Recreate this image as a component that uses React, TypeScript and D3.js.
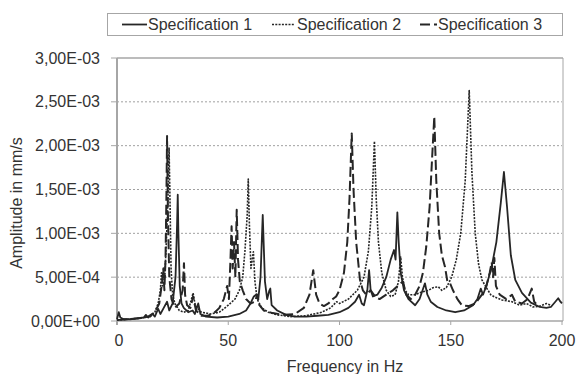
import React from "react";
import * as d3 from "d3";

const seriesNames = ["Specification 1", "Specification 2", "Specification 3"];

// frequency (Hz), amplitude (x1e-3 mm/s)
const spec1Freq = [0, 0.8, 1.5, 3, 6, 9, 12, 13, 14, 16, 17, 18.5, 19.5, 21, 22.5, 23.5, 25, 26.3, 27.0, 27.3, 27.6, 28.2, 29, 30, 32, 34, 35, 36.5, 37.5, 40, 45, 50, 55, 58, 60, 61.5, 62.5, 63.5, 64.5, 65.2, 65.5, 65.9, 66.5, 67.5, 68.5, 68.9, 69.5, 72, 76, 80, 85, 90, 95, 100, 104, 107, 108.8, 110, 111, 112.5, 113.3, 114, 115, 117, 119, 121, 123, 124.5, 125.2, 126.0, 126.6, 127.5, 129, 131, 134, 136, 138.4, 139.5, 141, 144, 148, 152, 156, 160, 162, 163.5, 164.5, 166, 168.4, 170.5, 172.5, 173.9, 175.3, 177, 179, 182, 186, 190, 193, 195, 197, 198.3, 199.3, 200];
const spec1Amp = [0.02, 0.10, 0.04, 0.02, 0.02, 0.03, 0.04, 0.07, 0.04, 0.08, 0.05, 0.14, 0.08, 0.15, 0.22, 0.12, 0.2, 0.5, 1.1, 1.44, 1.0, 0.4, 0.2, 0.15, 0.1, 0.12, 0.08, 0.2, 0.08, 0.05, 0.04, 0.05, 0.08, 0.12, 0.2, 0.28, 0.3, 0.25, 0.5, 1.0, 1.21, 0.9, 0.45, 0.25, 0.35, 0.37, 0.18, 0.12, 0.07, 0.05, 0.05, 0.06, 0.07, 0.1, 0.15, 0.22, 0.3, 0.2, 0.18, 0.35, 0.58, 0.35, 0.28, 0.3, 0.38, 0.5, 0.7, 0.81, 0.7, 1.24, 0.9, 0.55, 0.35, 0.25, 0.18, 0.25, 0.43, 0.3, 0.22, 0.16, 0.12, 0.1, 0.12, 0.18, 0.25, 0.37, 0.3, 0.4, 0.62, 0.9, 1.35, 1.70, 1.3, 0.75, 0.47, 0.32, 0.21, 0.16, 0.15, 0.16, 0.22, 0.26, 0.22, 0.2];

const spec2Freq = [0, 5, 10, 15, 17, 18.5, 19.5, 20, 20.5, 21, 21.5, 22, 22.5, 23.0, 23.4, 23.8, 24.3, 25, 26, 28, 30, 32, 33.5, 34.2, 35, 36, 38, 42, 46, 50, 53, 55, 56.5, 57.5, 58.5, 59.0, 59.5, 60.2, 60.8, 61.3, 62, 63, 65, 68, 72, 78, 85, 92, 96, 98.7, 100, 104, 108, 111, 113, 114.5, 115.7, 116.5, 117.5, 119, 121, 123, 125, 126.5, 127.5, 128.3, 129.5, 131, 134, 137, 140, 142, 144.4, 146, 148, 150.4, 152.5, 154.5, 156.5, 158.3, 159.5, 161, 162.5, 164, 166, 168, 170, 173, 177.5, 181, 184, 187, 190, 193, 195];
const spec2Amp = [0.01, 0.02, 0.03, 0.05, 0.1, 0.2, 0.35, 0.55, 0.4, 0.6, 0.5, 0.8, 1.1, 1.5, 1.98, 1.4, 0.6, 0.3, 0.2, 0.12, 0.1, 0.12, 0.25, 0.32, 0.2, 0.15, 0.1, 0.08, 0.1, 0.18, 0.25, 0.35, 0.5, 0.8, 1.2, 1.62, 1.1, 0.6, 0.7, 0.79, 0.45, 0.25, 0.15, 0.1, 0.07, 0.05, 0.06, 0.1, 0.15, 0.22, 0.2, 0.25, 0.35, 0.5, 0.8, 1.3, 2.05, 1.4, 0.9, 0.55, 0.35, 0.28, 0.3, 0.45, 0.73, 0.5, 0.35, 0.3, 0.3, 0.33, 0.35, 0.38, 0.39, 0.35, 0.38, 0.5, 0.7, 1.0, 1.6, 2.63, 1.7, 1.0, 0.65, 0.47, 0.38, 0.3, 0.27, 0.24, 0.22, 0.18, 0.2, 0.16, 0.17, 0.2, 0.18];

const spec3Freq = [0, 5, 10, 14, 17, 19, 20.3, 20.8, 21.3, 21.8, 22.2, 22.5, 22.9, 23.5, 24.5, 26, 28, 29.5, 30.1, 30.6, 31.5, 33, 34.2, 35.5, 38, 41, 44, 46, 48, 49.5, 50.3, 51.0, 51.5, 52.0, 52.6, 53.2, 53.8, 54.4, 55.2, 56.5, 58, 60, 62, 63, 64, 66, 70, 75, 80, 84, 86.5, 88.2, 89.5, 91, 93, 95, 97, 98.5, 100, 102, 103.5, 104.5, 105.5, 106.3, 107.5, 109.2, 110.5, 112, 114, 116, 118, 121, 124, 127, 128.5, 130, 132, 134, 136, 137.5, 139, 140.5, 141.5, 142.6, 143.5, 144.8, 146, 147.4, 148.5, 149.7, 151, 153, 155, 158, 161, 164, 166, 167.5, 168.4, 169, 169.6, 170.3, 172, 175, 177.5, 179, 182, 184.5, 186.4, 187.5, 189];
const spec3Amp = [0.01, 0.02, 0.03, 0.05, 0.1, 0.2, 0.45, 0.6, 0.35, 0.7, 1.4, 2.11, 1.2, 0.5, 0.25, 0.15, 0.2, 0.35, 0.66, 0.3, 0.18, 0.15, 0.28, 0.12, 0.06, 0.06, 0.1, 0.15, 0.25, 0.4, 0.25, 0.7, 1.08, 0.6, 0.9, 0.5, 1.27, 0.7, 0.45, 0.35, 0.25, 0.2, 0.22, 0.3, 0.18, 0.12, 0.09, 0.07, 0.08, 0.15, 0.3, 0.58, 0.3, 0.2, 0.17, 0.2, 0.25, 0.28, 0.35, 0.55, 0.9, 1.4, 2.14, 1.5, 0.9, 0.47, 0.35, 0.3, 0.35, 0.28, 0.25, 0.3, 0.35, 0.42, 0.45, 0.3, 0.25, 0.3, 0.4, 0.55, 0.85, 1.3, 1.8, 2.33, 1.6, 1.0, 0.75, 0.62, 0.45, 0.43, 0.35, 0.25, 0.18, 0.17, 0.2, 0.3, 0.4, 0.55, 0.67, 0.5, 0.72, 0.4, 0.3, 0.25, 0.3, 0.22, 0.2, 0.25, 0.37, 0.22, 0.18];

const xTicks = [0, 50, 100, 150, 200];
const yTicks = [0, 0.5, 1.0, 1.5, 2.0, 2.5, 3.0];
const yTickLabels = ["0,00E+00", "5,00E-04", "1,00E-03", "1,50E-03", "2,00E-03", "2,50E-03", "3,00E-03"];

export default function App() {
  const W = 577, H = 374;
  const left = 117, right = 562, top = 58, bottom = 321;
  const x = d3.scaleLinear().domain([0, 200]).range([left, right]);
  const y = d3.scaleLinear().domain([0, 3]).range([bottom, top]);
  const font = "'Liberation Sans', Arial, sans-serif";
  const line = d3.line<[number, number]>().x((d) => x(d[0])).y((d) => y(d[1]));
  const mk = (f: number[], a: number[]) => f.map((v, i) => [v, a[i]] as [number, number]);
  const series = [
    { name: seriesNames[0], data: mk(spec1Freq, spec1Amp), dash: "none", width: 1.8 },
    { name: seriesNames[1], data: mk(spec2Freq, spec2Amp), dash: "2,1.3", width: 1.6 },
    { name: seriesNames[2], data: mk(spec3Freq, spec3Amp), dash: "10,4", width: 2 },
  ];
  const legend = [
    { x1: 122, x2: 147, tx: 148, dash: "none", w: 1.8 },
    { x1: 272, x2: 294, tx: 297, dash: "2,1.3", w: 1.6 },
    { x1: 420, x2: 437, tx: 438, dash: "10,4", w: 2 },
  ];
  const lineColor = "#262626";
  const axisColor = "#a6a6a6";
  return (
    <svg width={W} height={H} style={{ position: "absolute", left: 0, top: 0, background: "#fff" }} fontFamily={font}>
      <rect x={0} y={0} width={W} height={H} fill="#fff" />
      {/* gridlines */}
      {yTicks.filter((t) => t > 0 && t < 3).map((t) => (
        <line key={"g" + t} x1={left} x2={right} y1={y(t)} y2={y(t)} stroke="#a0a0a0" strokeWidth={1} strokeDasharray="2,2" />
      ))}
      {/* frame */}
      <line x1={left} x2={right + 1} y1={top} y2={top} stroke={axisColor} strokeWidth={1.5} />
      <line x1={right + 1} x2={right + 1} y1={top} y2={bottom} stroke={axisColor} strokeWidth={1} />
      <line x1={left} x2={right + 1} y1={bottom} y2={bottom} stroke={axisColor} strokeWidth={1.5} />
      <line x1={left} x2={left} y1={top} y2={bottom + 4} stroke={axisColor} strokeWidth={2} />
      {/* y ticks */}
      {yTicks.map((t, i) => (
        <g key={"y" + t}>
          <line x1={left - 6} x2={left} y1={y(t)} y2={y(t)} stroke={axisColor} strokeWidth={1} />
          <text x={100} y={y(t)} dy="0.35em" textAnchor="end" fontSize={16} fill="#333">{yTickLabels[i]}</text>
        </g>
      ))}
      {/* x ticks */}
      {xTicks.map((t) => (
        <g key={"x" + t}>
          <line x1={x(t)} x2={x(t)} y1={bottom} y2={bottom + 4} stroke={axisColor} strokeWidth={1} />
          <text x={x(t) + (t === 0 ? 2 : 0)} y={346} textAnchor="middle" fontSize={16} fill="#333">{t}</text>
        </g>
      ))}
      {/* series */}
      {series.map((s) => (
        <path key={s.name} d={line(s.data) || ""} fill="none" stroke={lineColor} strokeWidth={s.width} strokeDasharray={s.dash} strokeLinejoin="round" />
      ))}
      {/* axis titles */}
      <text x={345} y={372} textAnchor="middle" fontSize={16} fill="#333">Frequency in Hz</text>
      <text transform="translate(22,203) rotate(-90)" textAnchor="middle" fontSize={16} fill="#333">Amplitude in mm/s</text>
      {/* legend */}
      <rect x={107.5} y={13.5} width={455} height={22} fill="#fff" stroke={axisColor} strokeWidth={1} />
      {series.map((s, i) => (
        <g key={"l" + i}>
          <line x1={legend[i].x1} x2={legend[i].x2} y1={24.5} y2={24.5} stroke={lineColor} strokeWidth={legend[i].w} strokeDasharray={legend[i].dash} />
          <text x={legend[i].tx} y={30} fontSize={16} fill="#333">{s.name}</text>
        </g>
      ))}
    </svg>
  );
}
